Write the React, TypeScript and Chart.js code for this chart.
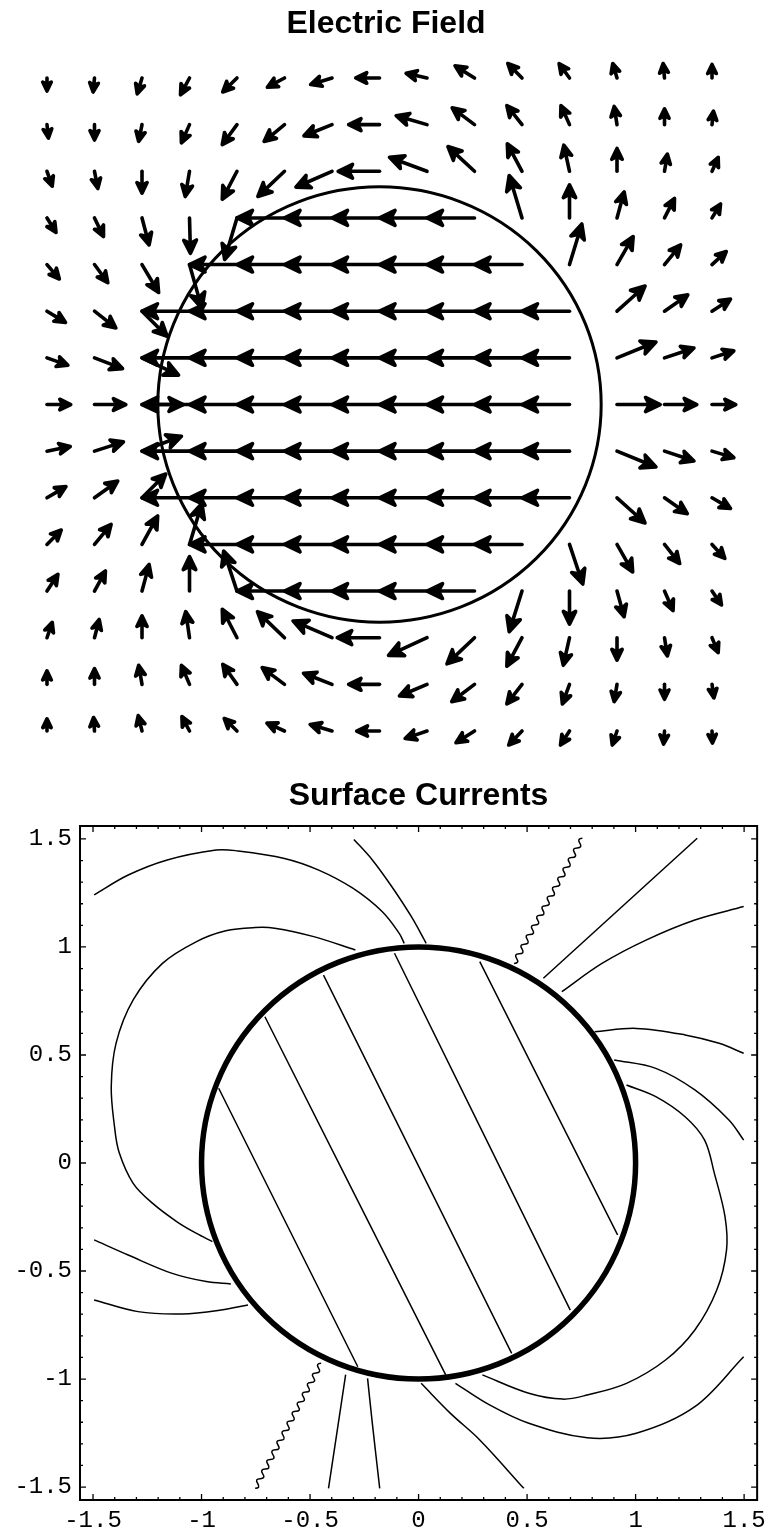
import React, { useEffect, useRef } from "react";
import { Chart, registerables } from "chart.js";

Chart.register(...registerables);

// ================= Electric Field (top panel) =================
const fieldTitle = "Electric Field";
const gridX = [-1.5, -1.2857, -1.0714, -0.8571, -0.6429, -0.4286, -0.2143, 0, 0.2143, 0.4286, 0.6429, 0.8571, 1.0714, 1.2857, 1.5];
const gridY = [1.5, 1.2857, 1.0714, 0.8571, 0.6429, 0.4286, 0.2143, 0, -0.2143, -0.4286, -0.6429, -0.8571, -1.0714, -1.2857, -1.5];
// arrow components, in grid steps (rows listed top -> bottom, columns left -> right)
const fieldU = [
  [0, -0.03, -0.1, -0.19, -0.3, -0.36, -0.45, -0.5, -0.44, -0.41, -0.3, -0.22, -0.09, -0.03, 0],
  [0.03, 0, -0.07, -0.17, -0.31, -0.43, -0.59, -0.65, -0.65, -0.47, -0.32, -0.18, -0.06, 0, 0.03],
  [0.11, 0.07, 0, -0.09, -0.31, -0.56, -0.76, -0.87, -0.79, -0.56, -0.31, -0.12, 0, 0.06, 0.13],
  [0.19, 0.19, 0.15, 0.02, -0.26, -1, -1, -1, -1, -1, -0.27, 0, 0.15, 0.21, 0.18],
  [0.26, 0.28, 0.35, 0.26, -1, -1, -1, -1, -1, -1, -1, 0.26, 0.34, 0.34, 0.3],
  [0.39, 0.45, 0.53, -1, -1, -1, -1, -1, -1, -1, -1, -1, 0.59, 0.49, 0.39],
  [0.44, 0.59, 0.77, -1, -1, -1, -1, -1, -1, -1, -1, -1, 0.82, 0.62, 0.46],
  [0.5, 0.66, 0.87, -1, -1, -1, -1, -1, -1, -1, -1, -1, 0.91, 0.68, 0.5],
  [0.49, 0.61, 0.83, -1, -1, -1, -1, -1, -1, -1, -1, -1, 0.82, 0.62, 0.46],
  [0.4, 0.49, 0.5, -1, -1, -1, -1, -1, -1, -1, -1, -1, 0.59, 0.48, 0.39],
  [0.3, 0.35, 0.33, 0.26, -1, -1, -1, -1, -1, -1, -1, 0.28, 0.33, 0.32, 0.27],
  [0.23, 0.23, 0.15, 0, -0.28, -1, -1, -1, -1, -1, -0.27, 0, 0.15, 0.18, 0.2],
  [0.11, 0.1, 0, -0.08, -0.31, -0.57, -0.82, -0.89, -0.81, -0.58, -0.32, -0.13, 0, 0.06, 0.13],
  [0, 0, -0.07, -0.17, -0.3, -0.47, -0.6, -0.65, -0.58, -0.48, -0.32, -0.15, -0.06, 0, 0.04],
  [0, -0.02, -0.08, -0.16, -0.27, -0.37, -0.46, -0.48, -0.46, -0.39, -0.28, -0.19, -0.1, -0.02, 0.01],
];
const fieldV = [
  [-0.28, -0.3, -0.34, -0.36, -0.3, -0.2, -0.14, 0, 0.1, 0.26, 0.31, 0.31, 0.31, 0.31, 0.29],
  [-0.29, -0.33, -0.36, -0.39, -0.43, -0.36, -0.24, 0, 0.19, 0.36, 0.41, 0.41, 0.39, 0.34, 0.29],
  [-0.32, -0.37, -0.47, -0.54, -0.6, -0.54, -0.34, 0, 0.3, 0.53, 0.59, 0.56, 0.49, 0.37, 0.3],
  [-0.31, -0.4, -0.58, -0.76, -0.89, 0, 0, 0, 0, 0, 0.91, 0.71, 0.56, 0.42, 0.3],
  [-0.31, -0.39, -0.6, -0.94, 0, 0, 0, 0, 0, 0, 0, 0.87, 0.6, 0.42, 0.28],
  [-0.24, -0.36, -0.54, 0, 0, 0, 0, 0, 0, 0, 0, 0, 0.54, 0.35, 0.26],
  [-0.16, -0.23, -0.37, 0, 0, 0, 0, 0, 0, 0, 0, 0, 0.34, 0.21, 0.15],
  [0, 0, 0, 0, 0, 0, 0, 0, 0, 0, 0, 0, 0, 0, 0],
  [0.1, 0.2, 0.32, 0, 0, 0, 0, 0, 0, 0, 0, 0, -0.34, -0.21, -0.14],
  [0.24, 0.36, 0.51, 0, 0, 0, 0, 0, 0, 0, 0, 0, -0.54, -0.34, -0.23],
  [0.31, 0.43, 0.61, 0.88, 0, 0, 0, 0, 0, 0, 0, -0.85, -0.59, -0.41, -0.3],
  [0.36, 0.43, 0.57, 0.74, 0.86, 0, 0, 0, 0, 0, -0.87, -0.71, -0.55, -0.42, -0.3],
  [0.33, 0.39, 0.47, 0.56, 0.61, 0.56, 0.36, 0, -0.38, -0.56, -0.61, -0.59, -0.48, -0.39, -0.32],
  [0.29, 0.34, 0.41, 0.41, 0.43, 0.36, 0.24, 0, -0.25, -0.37, -0.42, -0.42, -0.37, -0.32, -0.29],
  [0.26, 0.29, 0.33, 0.31, 0.27, 0.17, 0.14, 0, -0.16, -0.25, -0.3, -0.3, -0.3, -0.28, -0.26],
];
const sphereRadius = 1;

// ================= Surface Currents (bottom panel) =================
const currentsTitle = "Surface Currents";
const majorTicks = [-1.5, -1, -0.5, 0, 0.5, 1, 1.5];
const minorTicks = [-1.4, -1.3, -1.2, -1.1, -0.9, -0.8, -0.7, -0.6, -0.4, -0.3, -0.2, -0.1, 0.1, 0.2, 0.3, 0.4, 0.6, 0.7, 0.8, 0.9, 1.1, 1.2, 1.3, 1.4];

// contour lines inside the sphere (straight chords)
const chord1 = [{ x: -0.921, y: 0.346 }, { x: -0.28, y: -0.943 }];
const chord2 = [{ x: -0.708, y: 0.677 }, { x: 0.125, y: -0.981 }];
const chord3 = [{ x: -0.438, y: 0.87 }, { x: 0.429, y: -0.881 }];
const chord4 = [{ x: -0.111, y: 0.971 }, { x: 0.699, y: -0.681 }];
const chord5 = [{ x: 0.282, y: 0.932 }, { x: 0.917, y: -0.333 }];

// contour lines outside the sphere
const arcTopLeft = [
  { x: -1.495, y: 1.241 }, { x: -1.338, y: 1.333 }, { x: -1.158, y: 1.403 }, { x: -0.933, y: 1.449 },
  { x: -0.843, y: 1.446 }, { x: -0.618, y: 1.41 }, { x: -0.46, y: 1.356 }, { x: -0.303, y: 1.272 },
  { x: -0.168, y: 1.164 }, { x: -0.089, y: 1.063 }, { x: -0.066, y: 1.017 },
];
const arcTopSteep = [
  { x: -0.298, y: 1.498 }, { x: -0.213, y: 1.403 }, { x: -0.123, y: 1.279 }, { x: -0.033, y: 1.14 }, { x: 0.035, y: 1.017 },
];
const loopLeft = [
  { x: -0.291, y: 0.986 }, { x: -0.483, y: 1.048 }, { x: -0.663, y: 1.087 }, { x: -0.753, y: 1.09 },
  { x: -0.888, y: 1.075 }, { x: -1.023, y: 1.025 }, { x: -1.18, y: 0.924 }, { x: -1.315, y: 0.755 },
  { x: -1.394, y: 0.554 }, { x: -1.416, y: 0.353 }, { x: -1.401, y: 0.168 }, { x: -1.38, y: 0.05 },
  { x: -1.315, y: -0.094 }, { x: -1.225, y: -0.187 }, { x: -1.113, y: -0.272 }, { x: -1.023, y: -0.326 },
  { x: -0.95, y: -0.364 },
];
const lineTopRight = [{ x: 0.575, y: 0.855 }, { x: 1.284, y: 1.503 }];
const arcRight1 = [
  { x: 0.66, y: 0.793 }, { x: 0.845, y: 0.924 }, { x: 1.048, y: 1.032 }, { x: 1.273, y: 1.125 }, { x: 1.498, y: 1.187 },
];
const arcRight2 = [
  { x: 0.811, y: 0.608 }, { x: 1.003, y: 0.623 }, { x: 1.228, y: 0.593 }, { x: 1.385, y: 0.554 }, { x: 1.498, y: 0.508 },
];
const arcRight3 = [
  { x: 0.901, y: 0.477 }, { x: 1.093, y: 0.438 }, { x: 1.273, y: 0.338 }, { x: 1.43, y: 0.199 }, { x: 1.498, y: 0.106 },
];
const loopRight = [
  { x: 0.958, y: 0.361 }, { x: 1.093, y: 0.307 }, { x: 1.228, y: 0.214 }, { x: 1.318, y: 0.106 },
  { x: 1.363, y: -0.048 }, { x: 1.412, y: -0.248 }, { x: 1.419, y: -0.403 }, { x: 1.374, y: -0.588 },
  { x: 1.273, y: -0.773 }, { x: 1.138, y: -0.912 }, { x: 0.958, y: -1.02 }, { x: 0.777, y: -1.074 },
  { x: 0.665, y: -1.093 }, { x: 0.508, y: -1.066 }, { x: 0.294, y: -0.981 },
];
const arcBottomRight = [
  { x: 0.17, y: -1.02 }, { x: 0.327, y: -1.12 }, { x: 0.508, y: -1.205 }, { x: 0.777, y: -1.272 },
  { x: 1.003, y: -1.251 }, { x: 1.273, y: -1.128 }, { x: 1.498, y: -0.897 },
];
const arcBottomSteep = [
  { x: 0.012, y: -1.02 }, { x: 0.147, y: -1.159 }, { x: 0.282, y: -1.282 }, { x: 0.485, y: -1.506 },
];
const lineBottom1 = [{ x: -0.336, y: -0.98 }, { x: -0.415, y: -1.506 }];
const lineBottom2 = [{ x: -0.235, y: -0.997 }, { x: -0.213, y: -1.205 }, { x: -0.179, y: -1.506 }];
const arcLeft1 = [
  { x: -1.495, y: -0.356 }, { x: -1.338, y: -0.426 }, { x: -1.135, y: -0.511 }, { x: -0.978, y: -0.549 }, { x: -0.865, y: -0.56 },
];
const arcLeft2 = [
  { x: -1.495, y: -0.634 }, { x: -1.293, y: -0.688 }, { x: -1.09, y: -0.699 }, { x: -0.91, y: -0.681 }, { x: -0.786, y: -0.657 },
];
// jagged branch-cut contours
const cutTop = [{ x: 0.44, y: 0.924 }, { x: 0.755, y: 1.503 }];
const cutBottom = [{ x: -0.449, y: -0.927 }, { x: -0.753, y: -1.506 }];

const contourSets = [
  chord1, chord2, chord3, chord4, chord5,
  arcTopLeft, arcTopSteep, loopLeft, lineTopRight, arcRight1, arcRight2, arcRight3,
  loopRight, arcBottomRight, arcBottomSteep, lineBottom1, lineBottom2, arcLeft1, arcLeft2,
];
const cutSets = [cutTop, cutBottom];

const titleFont = { family: '"Liberation Sans", Arial, Helvetica, sans-serif', size: 32, weight: "bold" as const, lineHeight: 1 };
const monoFont = { family: '"Liberation Mono", "Courier New", monospace', size: 24, lineHeight: 1.2 };

function drawArrow(ctx: CanvasRenderingContext2D, x0: number, y0: number, x1: number, y1: number) {
  const dx = x1 - x0;
  const dy = y1 - y0;
  const len = Math.hypot(dx, dy);
  if (len < 1) return;
  const ux = dx / len;
  const uy = dy / len;
  const hl = Math.min(len * 0.72, 0.19 * len + 6.5);
  const hw = hl * 0.48;
  const bx = x1 - ux * hl;
  const by = y1 - uy * hl;
  const nx = x1 - ux * hl * 0.74;
  const ny = y1 - uy * hl * 0.74;
  ctx.beginPath();
  ctx.moveTo(x0, y0);
  ctx.lineTo(nx, ny);
  ctx.stroke();
  ctx.beginPath();
  ctx.moveTo(x1, y1);
  ctx.lineTo(bx - uy * hw, by + ux * hw);
  ctx.lineTo(nx, ny);
  ctx.lineTo(bx + uy * hw, by - ux * hw);
  ctx.closePath();
  ctx.fill();
  ctx.stroke();
}

const fieldPlugin = {
  id: "fieldArrows",
  afterDatasetsDraw(chart: any) {
    const { ctx } = chart;
    const xs = chart.scales.x;
    const ys = chart.scales.y;
    const stepX = gridX[1] - gridX[0];
    const stepY = gridY[0] - gridY[1];
    ctx.save();
    ctx.strokeStyle = "#000";
    ctx.fillStyle = "#000";
    // sphere outline
    const cx = xs.getPixelForValue(0);
    const cy = ys.getPixelForValue(0);
    const rx = xs.getPixelForValue(sphereRadius) - cx;
    const ry = cy - ys.getPixelForValue(sphereRadius);
    ctx.lineWidth = 3;
    ctx.beginPath();
    ctx.ellipse(cx, cy, rx, ry, 0, 0, Math.PI * 2);
    ctx.stroke();
    // arrows
    ctx.lineWidth = 3.6;
    ctx.lineCap = "round";
    ctx.lineJoin = "round";
    for (let j = 0; j < gridY.length; j++) {
      for (let i = 0; i < gridX.length; i++) {
        const gx = gridX[i];
        const gy = gridY[j];
        const x0 = xs.getPixelForValue(gx);
        const y0 = ys.getPixelForValue(gy);
        const x1 = xs.getPixelForValue(gx + fieldU[j][i] * stepX);
        const y1 = ys.getPixelForValue(gy + fieldV[j][i] * stepY);
        ctx.lineWidth = 3.6;
        drawArrow(ctx, x0, y0, x1, y1);
      }
    }
    ctx.restore();
  },
};

function drawWiggle(ctx: CanvasRenderingContext2D, x0: number, y0: number, x1: number, y1: number) {
  const len = Math.hypot(x1 - x0, y1 - y0);
  const nx = -(y1 - y0) / len;
  const ny = (x1 - x0) / len;
  const n = Math.max(2, Math.round(len / 5.5));
  ctx.beginPath();
  ctx.moveTo(x0, y0);
  for (let k = 0; k < n; k++) {
    const tm = (k + 0.5) / n;
    const t1 = (k + 1) / n;
    const s = k % 2 === 0 ? 1 : -1;
    ctx.quadraticCurveTo(
      x0 + (x1 - x0) * tm + nx * 5 * s,
      y0 + (y1 - y0) * tm + ny * 5 * s,
      x0 + (x1 - x0) * t1,
      y0 + (y1 - y0) * t1
    );
  }
  ctx.stroke();
}

const currentsPlugin = {
  id: "currentsFrame",
  afterDatasetsDraw(chart: any) {
    const { ctx, chartArea } = chart;
    const { left, right, top, bottom } = chartArea;
    const xs = chart.scales.x;
    const ys = chart.scales.y;
    ctx.save();
    ctx.strokeStyle = "#000";
    // branch cuts
    ctx.lineWidth = 1.5;
    ctx.save();
    ctx.beginPath();
    ctx.rect(left, top, right - left, bottom - top);
    ctx.clip();
    for (const cut of cutSets) {
      drawWiggle(
        ctx,
        xs.getPixelForValue(cut[0].x), ys.getPixelForValue(cut[0].y),
        xs.getPixelForValue(cut[1].x), ys.getPixelForValue(cut[1].y)
      );
    }
    ctx.restore();
    // thick sphere outline
    const cx = xs.getPixelForValue(0);
    const cy = ys.getPixelForValue(0);
    const rx = xs.getPixelForValue(sphereRadius) - cx;
    const ry = cy - ys.getPixelForValue(sphereRadius);
    ctx.lineWidth = 5.5;
    ctx.beginPath();
    ctx.ellipse(cx, cy, rx, ry, 0, 0, Math.PI * 2);
    ctx.stroke();
    // frame
    ctx.lineWidth = 2;
    ctx.strokeRect(left, top, right - left, bottom - top);
    // ticks on all four sides, pointing inward
    ctx.lineWidth = 1.3;
    const tick = (v: number, len: number) => {
      const px = xs.getPixelForValue(v);
      const py = ys.getPixelForValue(v);
      ctx.beginPath();
      ctx.moveTo(px, bottom); ctx.lineTo(px, bottom - len);
      ctx.moveTo(px, top); ctx.lineTo(px, top + len);
      ctx.moveTo(left, py); ctx.lineTo(left + len, py);
      ctx.moveTo(right, py); ctx.lineTo(right - len, py);
      ctx.stroke();
    };
    majorTicks.forEach((v) => tick(v, 6));
    minorTicks.forEach((v) => tick(v, 3));
    ctx.restore();
  },
};

const fmtTick = (v: number | string) => {
  const n = Number(v);
  return n === 0 ? "0" : String(n);
};

export default function App() {
  const topRef = useRef<HTMLCanvasElement>(null);
  const botRef = useRef<HTMLCanvasElement>(null);

  useEffect(() => {
    const tails: { x: number; y: number }[] = [];
    gridY.forEach((gy) => gridX.forEach((gx) => tails.push({ x: gx, y: gy })));

    const top = new Chart(topRef.current as HTMLCanvasElement, {
      type: "scatter",
      data: { datasets: [{ data: tails, pointRadius: 0, pointHoverRadius: 0 }] },
      options: {
        animation: false,
        responsive: false,
        events: [],
        layout: { padding: 0 },
        plugins: {
          legend: { display: false },
          tooltip: { enabled: false },
          title: {
            display: true,
            text: fieldTitle,
            color: "#000",
            font: titleFont,
            padding: { top: 8, bottom: 12 },
          },
        },
        scales: {
          x: { type: "linear", display: false, min: -1.712, max: 1.7706 },
          y: { type: "linear", display: false, min: -1.6791, max: 1.6194 },
        },
      },
      plugins: [fieldPlugin],
    } as any);

    const bottom = new Chart(botRef.current as HTMLCanvasElement, {
      type: "scatter",
      data: {
        datasets: contourSets.map((pts) => ({
          data: pts,
          showLine: true,
          borderColor: "#000",
          borderWidth: 1.5,
          pointRadius: 0,
          pointHoverRadius: 0,
          tension: 0.35,
          fill: false,
        })),
      },
      options: {
        animation: false,
        responsive: false,
        events: [],
        layout: { padding: { right: 6, left: 0, top: 0, bottom: 0 } },
        plugins: {
          legend: { display: false },
          tooltip: { enabled: false },
          title: {
            display: true,
            text: currentsTitle,
            color: "#000",
            fullSize: false,
            font: titleFont,
            padding: { top: 10, bottom: 14 },
          },
        },
        scales: {
          x: {
            type: "linear",
            min: -1.56,
            max: 1.56,
            grid: { display: false, drawTicks: false },
            border: { display: false },
            afterBuildTicks: (s: any) => {
              s.ticks = majorTicks.map((v) => ({ value: v }));
            },
            afterFit: (s: any) => {
              s.height = 32;
            },
            ticks: { color: "#000", font: monoFont, padding: 6, maxRotation: 0, autoSkip: false, callback: fmtTick },
          },
          y: {
            type: "linear",
            min: -1.56,
            max: 1.56,
            grid: { display: false, drawTicks: false },
            border: { display: false },
            afterBuildTicks: (s: any) => {
              s.ticks = majorTicks.map((v) => ({ value: v }));
            },
            afterFit: (s: any) => {
              s.width = 80;
            },
            ticks: { color: "#000", font: monoFont, padding: 8, autoSkip: false, callback: fmtTick },
          },
        },
      },
      plugins: [currentsPlugin],
    } as any);

    return () => {
      top.destroy();
      bottom.destroy();
    };
  }, []);

  return (
    <div style={{ position: "absolute", left: 0, top: 0, width: 772, height: 1532, background: "#fff" }}>
      <canvas ref={topRef} width={772} height={770} style={{ position: "absolute", left: 0, top: 0 }} />
      <canvas ref={botRef} width={772} height={762} style={{ position: "absolute", left: 0, top: 770 }} />
    </div>
  );
}
